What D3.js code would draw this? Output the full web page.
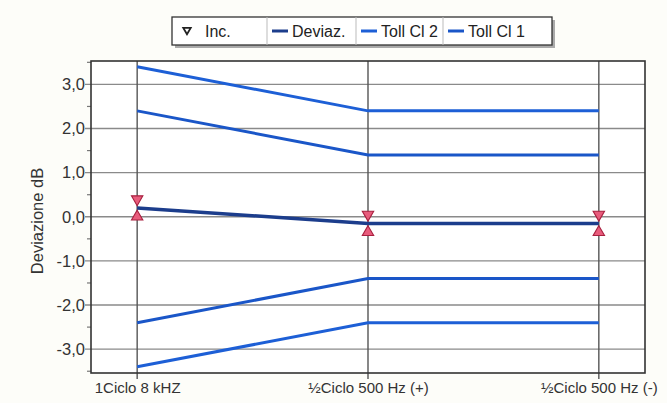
<!DOCTYPE html>
<html><head><meta charset="utf-8">
<script src="https://cdn.jsdelivr.net/npm/d3@7"></script>
<style>
html,body{margin:0;padding:0;background:#fdfdf9;}
svg{display:block;font-family:"Liberation Sans",Arial,sans-serif;}
</style></head>
<body><svg id="c" width="667" height="403"></svg>
<script>
const categories = ["1Ciclo 8 kHZ", "½Ciclo 500 Hz (+)", "½Ciclo 500 Hz (-)"];
const deviaz = [0.2, -0.15, -0.15];
const incUpper = [0.4, 0.05, 0.05];
const incLower = [0.0, -0.35, -0.35];
const tollCl2Upper = [3.4, 2.4, 2.4];
const tollCl2Lower = [-3.4, -2.4, -2.4];
const tollCl1Upper = [2.4, 1.4, 1.4];
const tollCl1Lower = [-2.4, -1.4, -1.4];
const yTicks = [-3, -2, -1, 0, 1, 2, 3];
const yMinor = [-3.5, -2.5, -1.5, -0.5, 0.5, 1.5, 2.5, 3.5];
const legendItems = ["Inc.", "Deviaz.", "Toll Cl 2", "Toll Cl 1"];

const svg = d3.select("#c");
const L = 91, R = 645, T = 61, B = 373;
const x = d3.scalePoint().domain(categories).range([L, R]).padding(0.2);
const y = d3.scaleLinear().domain([-3.54, 3.53]).range([B, T]);

svg.append("rect").attr("x", L).attr("y", T).attr("width", R - L).attr("height", B - T).attr("fill", "#fff");

svg.append("g").selectAll("line").data(yTicks).join("line")
  .attr("x1", L - 6).attr("x2", R).attr("y1", d => y(d)).attr("y2", d => y(d))
  .attr("stroke", "#8a8a8a").attr("stroke-width", 1.4);
svg.append("g").selectAll("line").data(yMinor.filter(v => y(v) > T && y(v) < B)).join("line")
  .attr("x1", L - 4).attr("x2", L).attr("y1", d => y(d)).attr("y2", d => y(d))
  .attr("stroke", "#777").attr("stroke-width", 1.2);
svg.append("g").selectAll("line").data(categories).join("line")
  .attr("x1", d => x(d)).attr("x2", d => x(d)).attr("y1", T).attr("y2", B + 6)
  .attr("stroke", "#555").attr("stroke-width", 1.4);

svg.append("rect").attr("x", L).attr("y", T).attr("width", R - L).attr("height", B - T)
  .attr("fill", "none").attr("stroke", "#333").attr("stroke-width", 1.6);

const yAxis = d3.axisLeft(y).tickValues(yTicks).tickSize(0).tickPadding(6)
  .tickFormat(d => d3.format(".1f")(d).replace(".", ",").replace("−", "-"));
const gy = svg.append("g").attr("transform", `translate(${L},0)`).call(yAxis);
gy.select(".domain").remove();
gy.selectAll("text").attr("font-size", 16.5).attr("fill", "#333").attr("font-family", "Liberation Sans, Arial, sans-serif");

const xAxis = d3.axisBottom(x).tickSize(0).tickPadding(9);
const gx = svg.append("g").attr("transform", `translate(0,${B})`).call(xAxis);
gx.select(".domain").remove();
gx.selectAll("text").attr("font-size", 15).attr("fill", "#333").attr("font-family", "Liberation Sans, Arial, sans-serif");

svg.append("text").attr("transform", `translate(43,${(T + B) / 2 + 4}) rotate(-90)`)
  .attr("text-anchor", "middle").attr("font-size", 16.5).attr("fill", "#333").text("Deviazione dB");

const line = d3.line().x((d, i) => x(categories[i])).y(d => y(d));
const plotG = svg.append("g");
[[tollCl2Upper, "#1d5fd6"], [tollCl2Lower, "#1d5fd6"], [tollCl1Upper, "#1a56c8"], [tollCl1Lower, "#1a56c8"]].forEach(([arr, c]) => {
  plotG.append("path").datum(arr).attr("d", line).attr("fill", "none").attr("stroke", c).attr("stroke-width", 3);
});
plotG.append("path").datum(deviaz).attr("d", line).attr("fill", "none").attr("stroke", "#1c3d8c").attr("stroke-width", 3.5);

const tri = d3.symbol().type(d3.symbolTriangle).size(56);
plotG.selectAll(".up").data(incLower).join("path")
  .attr("d", tri).attr("transform", (d, i) => `translate(${x(categories[i])},${y(d)})`)
  .attr("fill", "#e85c7c").attr("stroke", "#a8203f").attr("stroke-width", 1.1);
plotG.selectAll(".dn").data(incUpper).join("path")
  .attr("d", tri).attr("transform", (d, i) => `translate(${x(categories[i])},${y(d)}) rotate(180)`)
  .attr("fill", "#e85c7c").attr("stroke", "#a8203f").attr("stroke-width", 1.1);

const lg = svg.append("g");
const lx = 172, ly = 17, lw = 380, lh = 28;
lg.append("rect").attr("x", lx + 3).attr("y", ly + 3).attr("width", lw).attr("height", lh).attr("fill", "#aaa");
lg.append("rect").attr("x", lx).attr("y", ly).attr("width", lw).attr("height", lh).attr("fill", "#fff").attr("stroke", "#333").attr("stroke-width", 1.3);
const cells = [172, 267, 356, 443, 552];
[1, 2, 3].forEach(i => lg.append("line").attr("x1", cells[i]).attr("x2", cells[i]).attr("y1", ly).attr("y2", ly + lh).attr("stroke", "#bbb").attr("stroke-width", 1));
const swatchColors = [null, "#1c3d8c", "#1d5fd6", "#1a56c8"];
legendItems.forEach((name, i) => {
  const cx = cells[i];
  if (i === 0) {
    lg.append("path").attr("d", d3.symbol().type(d3.symbolTriangle).size(24))
      .attr("transform", `translate(${cx + 15},${ly + 13}) rotate(180)`)
      .attr("fill", "#fff").attr("stroke", "#222").attr("stroke-width", 1.8);
    lg.append("text").attr("x", cx + 33).attr("y", ly + 20).attr("font-size", 16).attr("fill", "#222").text(name);
  } else {
    lg.append("line").attr("x1", cx + 5).attr("x2", cx + 21).attr("y1", ly + 14).attr("y2", ly + 14)
      .attr("stroke", swatchColors[i]).attr("stroke-width", 3);
    lg.append("text").attr("x", cx + 25).attr("y", ly + 20).attr("font-size", 16).attr("fill", "#222").text(name);
  }
});
</script></body></html>
